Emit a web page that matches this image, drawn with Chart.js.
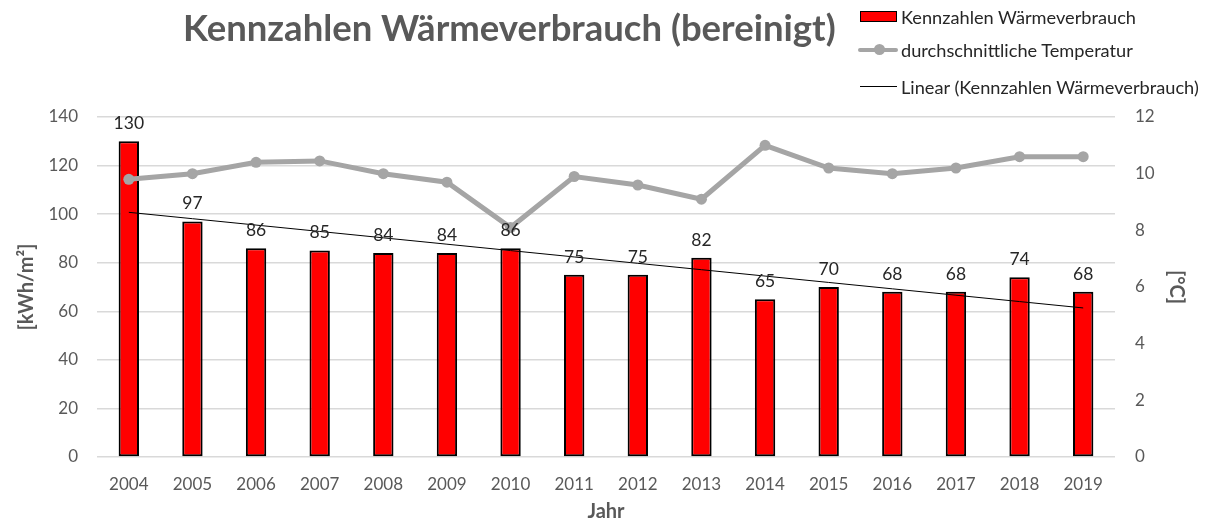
<!DOCTYPE html>
<html>
<head>
<meta charset="utf-8">
<script src="https://cdn.jsdelivr.net/npm/chart.js@4.4.1/dist/chart.umd.min.js"></script>
<style>
    body { margin: 0; background: #fff; }
    #wrap { position: relative; width: 1221px; height: 525px; }
    #title { position: absolute; left: 183px; top: 5px; font: bold 36.5px Lato, sans-serif; color: #595959; white-space: nowrap; }
    .leg { position: absolute; left: 901px; font: 18.2px Lato, sans-serif; color: #262626; white-space: nowrap; line-height: 20px; }
    .sw { position: absolute; }
</style>
</head>
<body>
<div id="wrap">
    <canvas id="chart" width="1221" height="525"></canvas>
    <div id="title">Kennzahlen Wärmeverbrauch (bereinigt)</div>
    <!-- legend -->
    <div class="sw" style="left:860px;top:11px;width:35px;height:9px;background:#ff0000;border:1.5px solid #000;"></div>
    <div class="leg" style="top:7px;">Kennzahlen Wärmeverbrauch</div>
    <div class="sw" style="left:858px;top:48px;width:40px;height:4px;background:#a5a5a5;border-radius:2px;"></div>
    <div class="sw" style="left:874px;top:44px;width:11px;height:11px;background:#a5a5a5;border-radius:50%;"></div>
    <div class="leg" style="top:40px;">durchschnittliche Temperatur</div>
    <div class="sw" style="left:860px;top:86px;width:37px;height:1px;background:#000;"></div>
    <div class="leg" style="top:77px;">Linear (Kennzahlen Wärmeverbrauch)</div>
</div>
<script>
// Werte
const years = ['2004', '2005', '2006', '2007', '2008', '2009', '2010', '2011',
    '2012', '2013', '2014', '2015', '2016', '2017', '2018', '2019'];
const heatValues = [130, 97, 86, 85, 84, 84, 86, 75, 75, 82, 65, 70, 68, 68, 74, 68];
const tempValues = [9.8, 10.0, 10.4, 10.45, 10.0, 9.7, 8.1, 9.9, 9.6, 9.1, 11.0, 10.2, 10.0, 10.2, 10.6, 10.6];
const heatTicks = { min: 0, max: 140, step: 20 };
const tempTicks = { min: 0, max: 12, step: 2 };

// Linear trend (least squares) like the spreadsheet trendline
function linearTrend(values) {
    const n = values.length;
    const mx = (n - 1) / 2;
    const my = values.reduce((a, b) => a + b, 0) / n;
    let sxy = 0, sxx = 0;
    values.forEach((v, i) => { sxy += (i - mx) * (v - my); sxx += (i - mx) * (i - mx); });
    const slope = sxy / sxx;
    return values.map((v, i) => my + slope * (i - mx));
}
const trendValues = linearTrend(heatValues);

const fontFamily = "Lato, sans-serif";
const textColor = '#595959';
const gridColor = '#d9d9d9';

// value labels above the bars
const barLabels = {
    id: 'barLabels',
    afterDatasetsDraw(chart) {
        const meta = chart.getDatasetMeta(2);
        const ctx = chart.ctx;
        ctx.save();
        ctx.font = '17.5px ' + fontFamily;
        ctx.fillStyle = '#262626';
        ctx.textAlign = 'center';
        ctx.textBaseline = 'bottom';
        meta.data.forEach((bar, i) => {
            ctx.fillText(String(heatValues[i]), bar.x, bar.y - 9);
        });
        ctx.restore();
    }
};

new Chart(document.getElementById('chart'), {
    data: {
        labels: years,
        datasets: [
            {
                type: 'line',
                label: 'durchschnittliche Temperatur',
                data: tempValues,
                yAxisID: 'y1',
                borderColor: '#a5a5a5',
                backgroundColor: '#a5a5a5',
                borderWidth: 5,
                pointRadius: 5.5,
                pointBackgroundColor: '#a5a5a5',
                pointBorderWidth: 0,
                tension: 0,
                order: 1
            },
            {
                type: 'line',
                label: 'Linear (Kennzahlen Wärmeverbrauch)',
                data: trendValues,
                yAxisID: 'y',
                borderColor: '#000000',
                borderWidth: 1,
                pointRadius: 0,
                order: 2
            },
            {
                type: 'bar',
                label: 'Kennzahlen Wärmeverbrauch',
                data: heatValues,
                yAxisID: 'y',
                backgroundColor: '#ff0000',
                borderColor: '#000000',
                borderWidth: 2,
                borderSkipped: false,
                barPercentage: 0.32,
                categoryPercentage: 1,
                order: 3
            }
        ]
    },
    options: {
        responsive: false,
        animation: false,
        layout: { padding: { top: 117, left: 0, right: 0, bottom: 0 } },
        plugins: {
            legend: { display: false },
            title: { display: false },
            tooltip: { enabled: false }
        },
        scales: {
            x: {
                afterFit(scale) { scale.height = 68; },
                grid: { display: false },
                border: { display: false },
                ticks: { color: textColor, font: { family: fontFamily, size: 17 }, padding: 9, maxRotation: 0 },
                title: { display: true, text: 'Jahr', color: textColor, font: { family: fontFamily, size: 20, weight: 'bold' }, padding: { top: 0, bottom: 1 } }
            },
            y: {
                position: 'left',
                min: heatTicks.min, max: heatTicks.max,
                afterFit(scale) { scale.width = 97; },
                grid: { color: gridColor, lineWidth: 1.5, drawTicks: false },
                border: { display: false },
                ticks: { stepSize: heatTicks.step, color: textColor, font: { family: fontFamily, size: 17 }, padding: 19 },
                title: { display: true, text: '[kWh/m²]', color: textColor, font: { family: fontFamily, size: 20, weight: 'bold' }, padding: { top: 15, bottom: 0 } }
            },
            y1: {
                position: 'right',
                min: tempTicks.min, max: tempTicks.max,
                afterFit(scale) { scale.width = 106; },
                grid: { display: false, drawTicks: false },
                border: { display: false },
                ticks: { stepSize: tempTicks.step, color: textColor, font: { family: fontFamily, size: 17 }, padding: 20 },
                title: { display: true, text: '[°C]', color: textColor, font: { family: fontFamily, size: 20, weight: 'bold' }, padding: { top: 33, bottom: 0 } }
            }
        }
    },
    plugins: [barLabels]
});
</script>
</body>
</html>
